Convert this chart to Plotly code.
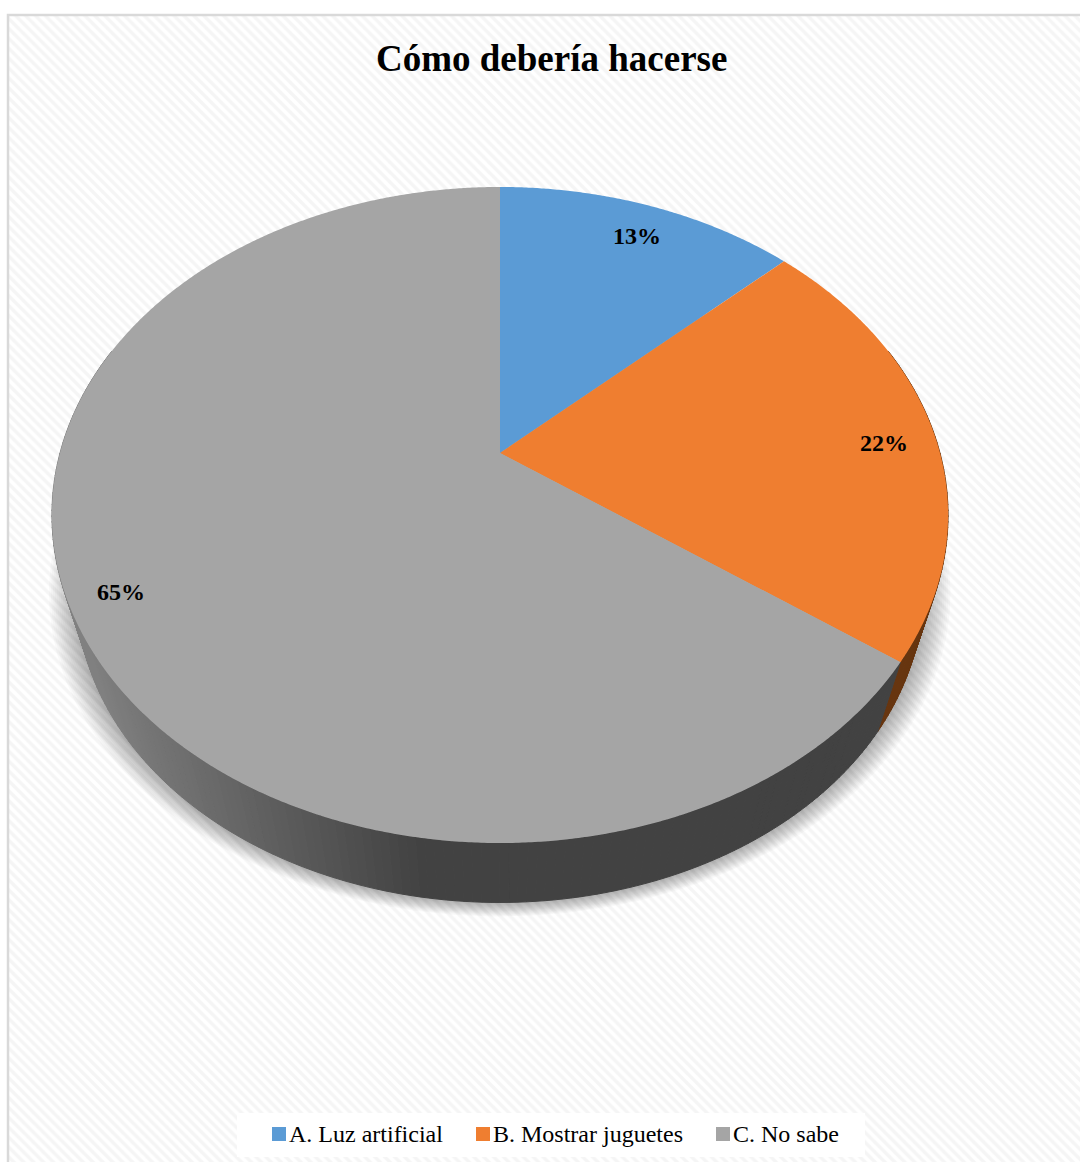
import numpy as np
import plotly.graph_objects as go

# Survey shares
categories = ["A. Luz artificial", "B. Mostrar juguetes", "C. No sabe"]
shares = [13, 22, 65]
slice_colors = ["#5b9bd5", "#ef7e30", "#a5a5a5"]
wall_colors = ["#2f5d86", "#67350f", None]
title_text = "Cómo debería hacerse"

WIDTH, HEIGHT = 1080, 1162

# Perspective of the pie disc: apex, half axes and tilt term
APEX_X, APEX_Y = 500, 453
AX_A, AX_B, TILT = 440, 316.3, 0.189
# Extrusion of the rim toward a vanishing point below the disc
VP_X, VP_Y, DEPTH_SCALE = 495, 1895, 0.9435
LABEL_RADIUS = 0.875
LABEL_SHIFT = [(4, -4), (4, -7), (-8, -3)]


def project(theta, r=1.0):
    """Map a clockwise-from-top angle on the unit disc to the tilted view."""
    px = r * np.sin(theta)
    py = r * np.cos(theta)
    w = 1 + TILT * py
    return APEX_X + AX_A * px / w, APEX_Y - AX_B * py / w


def extrude(x, y):
    return VP_X + DEPTH_SCALE * (x - VP_X), VP_Y + DEPTH_SCALE * (y - VP_Y)


fractions = np.array(shares) / sum(shares)
edges = np.concatenate([[0], np.cumsum(fractions)]) * 2 * np.pi

fig = go.Figure()

# Hatched chart area
fig.add_trace(go.Bar(
    x=[(8 + WIDTH + 20) / 2], y=[HEIGHT + 20 - 15], base=[15], width=[WIDTH + 12],
    marker=dict(color="#ffffff", line_width=0,
                pattern=dict(shape="\\", size=7, solidity=0.5,
                             fgcolor="#ececec", bgcolor="#ffffff")),
    hoverinfo="skip", showlegend=False,
))

# Soft shadow beneath the pie: stacked translucent outlines around the lower rim
sweep = np.linspace(0, 2 * np.pi, 361)
rim_x, rim_y = extrude(*project(sweep))
rim_cx = (rim_x.max() + rim_x.min()) / 2
rim_cy = (rim_y.max() + rim_y.min()) / 2
rim_rx = (rim_x.max() - rim_x.min()) / 2
rim_ry = (rim_y.max() - rim_y.min()) / 2
for grow in range(28, 0, -2):
    fig.add_trace(go.Scatter(
        x=rim_cx + (rim_x - rim_cx) * (rim_rx + grow) / rim_rx,
        y=rim_cy + (rim_y - rim_cy) * (rim_ry + grow * 0.5) / rim_ry,
        mode="lines", line=dict(width=0), fill="toself",
        fillcolor="rgba(0,0,0,0.024)", hoverinfo="skip", showlegend=False,
    ))


def grey_wall(x_mid):
    """Side wall of the grey slice darkens from the left edge to the middle."""
    t = np.clip((x_mid - 85) / (420 - 85), 0, 1)
    v = int(round(128 + (66 - 128) * t))
    return f"rgb({v},{v},{v})"


# Side wall, built as short quads along the front of the rim
wall_start, wall_end = np.deg2rad(70), np.deg2rad(290)
steps = np.linspace(wall_start, wall_end, 221)
for t0, t1 in zip(steps[:-1], steps[1:]):
    tm = (t0 + t1) / 2
    idx = int(np.searchsorted(edges, tm % (2 * np.pi)) - 1)
    x0, y0 = project(t0)
    x1, y1 = project(t1)
    x2, y2 = extrude(x1, y1)
    x3, y3 = extrude(x0, y0)
    color = wall_colors[idx] or grey_wall((x0 + x1) / 2)
    fig.add_trace(go.Scatter(
        x=[x0, x1, x2, x3, x0], y=[y0, y1, y2, y3, y0],
        mode="lines", line=dict(width=1, color=color), fill="toself",
        fillcolor=color, hoverinfo="skip", showlegend=False,
    ))

# Top surface of each slice
for name, color, t0, t1 in zip(categories, slice_colors, edges[:-1], edges[1:]):
    arc = np.linspace(t0, t1, max(int(np.degrees(t1 - t0)) * 3, 2) + 1)
    ax, ay = project(arc)
    fig.add_trace(go.Scatter(
        x=np.r_[APEX_X, ax, APEX_X], y=np.r_[APEX_Y, ay, APEX_Y],
        mode="lines", line=dict(width=0, color=color, simplify=False), fill="toself",
        fillcolor=color, name=name, hoverinfo="name", showlegend=False,
    ))

# Percentage labels on the slices
for share, t0, t1, (dx, dy) in zip(shares, edges[:-1], edges[1:], LABEL_SHIFT):
    lx, ly = project((t0 + t1) / 2, LABEL_RADIUS)
    fig.add_annotation(
        x=lx, y=ly, xshift=dx, yshift=dy, text=f"<b>{share}%</b>", showarrow=False,
        font=dict(family="Liberation Serif", size=24, color="#000000"),
    )

# Legend strip along the bottom
LEG_X0, LEG_X1, LEG_Y0, LEG_Y1 = 237, 865, 1113, 1157
fig.add_trace(go.Scatter(
    x=[LEG_X0, LEG_X1, LEG_X1, LEG_X0, LEG_X0],
    y=[LEG_Y0, LEG_Y0, LEG_Y1, LEG_Y1, LEG_Y0],
    mode="lines", line=dict(width=0), fill="toself", fillcolor="#ffffff",
    hoverinfo="skip", showlegend=False,
))
swatch_x = [279, 483, 723]
fig.add_trace(go.Scatter(
    x=swatch_x, y=[1134] * 3, mode="markers",
    marker=dict(symbol="square", size=14, color=slice_colors, line_width=0),
    hoverinfo="skip", showlegend=False,
))
for name, sx in zip(categories, swatch_x):
    fig.add_annotation(
        x=sx + 8, y=1134, text=name, showarrow=False, xanchor="left",
        font=dict(family="Liberation Serif", size=24, color="#000000"),
    )

fig.add_annotation(
    x=551, y=58, text=f"<b>{title_text}</b>", showarrow=False,
    font=dict(family="Liberation Serif", size=37, color="#000000"),
)

# Chart frame
fig.add_shape(type="rect", x0=8, y0=15, x1=WIDTH + 20, y1=HEIGHT + 20,
              line=dict(color="#d9d9d9", width=2.5), layer="above")

fig.update_layout(
    width=WIDTH, height=HEIGHT, margin=dict(l=0, r=0, t=0, b=0),
    paper_bgcolor="#ffffff", plot_bgcolor="#ffffff", showlegend=False,
    xaxis=dict(range=[0, WIDTH], visible=False, fixedrange=True),
    yaxis=dict(range=[HEIGHT, 0], visible=False, fixedrange=True),
)
fig.write_html("out.html")
